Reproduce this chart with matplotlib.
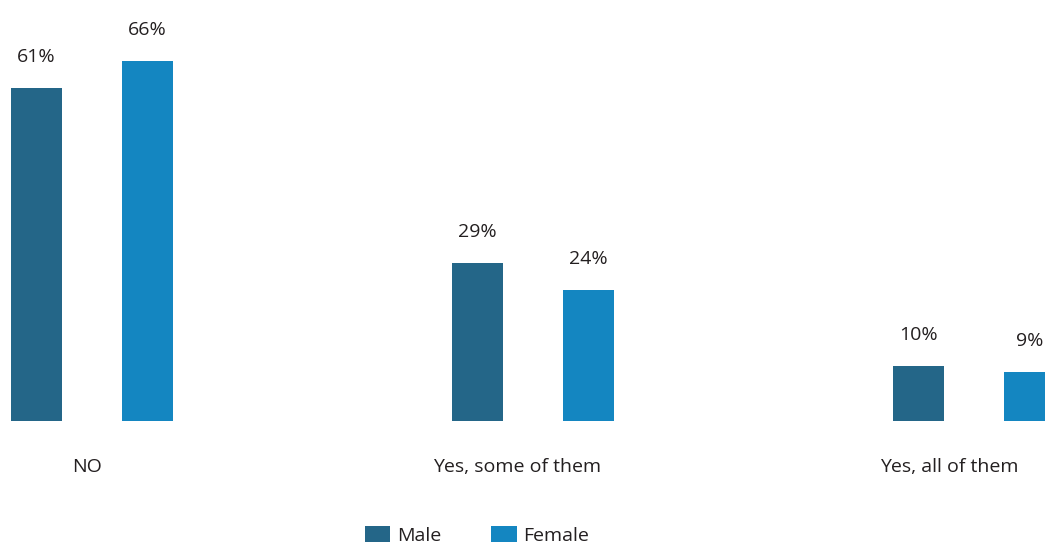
import numpy as np
from matplotlib import pyplot as plt

plt.rcParams['font.family'] = ['Open Sans', 'DejaVu Sans']

categories = ['NO', 'Yes, some of them', 'Yes, all of them']
male = [61, 29, 10]
female = [66, 24, 9]

MALE_COLOR = '#246688'
FEMALE_COLOR = '#1486C1'
TEXT_COLOR = '#231F20'

fig = plt.figure(figsize=(10.45, 5.47), dpi=100)
ax = fig.add_axes([0, 126/547, 1, 414.6/547])

x = np.arange(len(categories))
width = 0.116
offset = 0.126

b1 = ax.bar(x - offset, male, width, color=MALE_COLOR, label='Male')
b2 = ax.bar(x + offset, female, width, color=FEMALE_COLOR, label='Female')

for bars in (b1, b2):
    for bar in bars:
        h = bar.get_height()
        ax.annotate(f'{h:.0f}%', (bar.get_x() + bar.get_width()/2, h),
                    xytext=(0, 16), textcoords='offset points',
                    ha='center', va='bottom', fontsize=14, color=TEXT_COLOR)

ax.set_xlim(-92/441, (1045-92)/441)
ax.set_ylim(0, 76)
ax.set_xticks(x - np.array([0.012, 0.035, 0.055]))
ax.set_xticklabels(categories, fontsize=14, color=TEXT_COLOR)
ax.tick_params(axis='x', length=0, pad=27)
ax.set_yticks([])
for s in ax.spines.values():
    s.set_visible(False)

fig.legend(loc='lower center', bbox_to_anchor=(477/1045, -0.028), ncol=2,
           frameon=False, fontsize=14, handlelength=1.3, handleheight=0.9,
           columnspacing=2.6, handletextpad=0.35, labelcolor=TEXT_COLOR)

fig.savefig('out.png', dpi=100)
